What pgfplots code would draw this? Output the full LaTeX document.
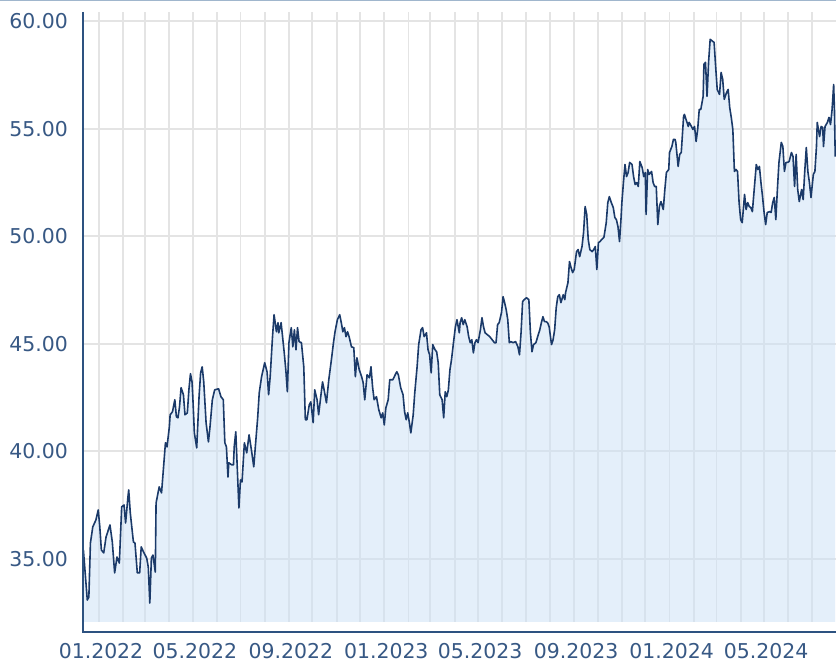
\documentclass[border=0pt]{standalone}
\usepackage{fontspec}
\setmainfont{DejaVu Sans}
\usepackage{pgfplots}
\pgfplotsset{compat=1.18}
\usepackage{pgfplotstable}
\definecolor{linecol}{RGB}{27,58,105}
\definecolor{fillcol}{RGB}{206,226,246}
\definecolor{axiscol}{RGB}{45,82,128}
\definecolor{labelcol}{RGB}{55,88,132}
\definecolor{gridcol}{RGB}{228,228,228}
\definecolor{topcol}{RGB}{160,182,205}

\pgfplotstableread{
d v
-20 35.42
-17 34.02
-15 33.09
-13 33.23
-11 35.74
-8 36.49
-4 36.81
-1 37.28
1 36.49
3 35.42
6 35.28
9 36.02
14 36.58
17 35.79
20 34.35
23 35.09
26 34.81
29 37.42
32 37.51
34 36.67
37 37.88
38 38.21
40 37.14
44 35.79
46 35.74
49 34.35
52 34.35
54 35.56
57 35.32
61 35.04
63 34.63
65 32.95
67 35.04
69 35.18
72 34.39
73 37.60
77 38.35
80 38.07
82 39.00
85 40.40
87 40.21
90 41.14
91 41.70
94 41.84
97 42.40
99 41.61
101 41.56
103 42.07
105 42.96
108 42.63
110 41.70
113 41.79
115 42.86
117 43.61
119 43.23
120 42.54
122 40.86
125 40.16
128 42.54
130 43.65
132 43.93
134 43.23
137 41.33
140 40.44
142 41.14
145 42.40
148 42.86
153 42.91
156 42.54
159 42.40
161 40.40
163 40.21
165 38.81
166 39.47
170 39.37
172 39.37
173 40.21
175 40.91
177 39.14
179 37.37
181 38.67
183 38.58
186 40.40
189 39.93
192 40.77
195 40.07
198 39.28
200 40.21
203 41.56
205 42.72
208 43.47
212 44.12
215 43.70
217 42.63
219 43.47
222 45.33
224 46.35
227 45.56
229 45.98
230 45.51
233 45.98
235 45.28
237 44.58
239 43.79
241 42.77
243 45.05
246 45.75
248 44.86
250 45.65
252 44.72
254 45.75
256 45.10
259 45.05
262 43.93
264 41.47
266 41.47
269 42.16
271 42.30
274 41.33
276 42.86
279 42.40
281 41.70
284 42.63
286 43.23
288 42.86
291 42.26
294 43.33
297 44.16
300 45.05
302 45.56
305 46.12
308 46.35
310 45.98
312 45.56
314 45.75
316 45.33
318 45.56
320 45.33
323 44.86
326 44.82
328 43.47
330 44.35
333 43.79
336 43.47
338 43.19
340 42.40
343 43.56
346 43.42
348 43.93
350 43.00
352 42.40
355 42.54
358 41.93
361 41.56
363 41.79
365 41.23
367 42.02
370 42.40
372 43.33
376 43.33
379 43.56
381 43.70
383 43.56
386 42.96
389 42.63
391 41.84
393 41.47
395 41.79
397 41.37
399 40.86
402 41.70
404 42.72
407 43.93
409 44.96
412 45.65
414 45.75
416 45.33
419 45.51
421 44.72
423 44.49
425 43.65
427 44.96
430 44.72
432 44.63
434 44.12
436 42.63
439 42.40
441 41.56
443 42.77
445 42.54
447 42.86
449 43.79
451 44.26
454 45.19
456 45.79
458 46.12
461 45.51
462 45.98
464 46.21
466 45.89
468 46.12
471 45.79
473 45.33
475 45.05
477 45.19
479 44.58
481 45.05
483 45.19
485 45.05
488 45.65
490 46.21
492 45.79
494 45.51
497 45.42
500 45.33
503 45.19
506 45.05
508 45.05
510 45.89
512 45.98
515 46.45
517 47.19
519 46.91
521 46.58
523 46.12
525 45.05
527 45.10
530 45.05
533 45.10
536 44.86
538 44.49
540 45.51
542 46.96
544 47.05
547 47.14
550 47.05
552 45.51
554 44.63
556 44.96
559 45.05
562 45.42
564 45.65
566 45.98
568 46.26
570 46.03
572 46.03
574 45.98
576 45.79
579 44.96
581 45.19
583 45.65
585 46.68
587 47.19
589 47.28
591 46.91
594 47.28
596 47.05
597 47.38
600 47.84
602 48.82
604 48.54
606 48.31
608 48.45
611 49.28
613 49.38
615 49.05
618 49.52
620 50.17
622 51.38
624 51.01
626 49.84
628 49.38
631 49.28
633 49.38
635 49.52
637 48.45
639 49.70
641 49.75
643 49.84
646 49.94
649 50.63
651 51.56
653 51.84
655 51.61
658 51.33
660 50.87
662 50.77
664 50.45
666 49.75
668 50.87
669 51.56
671 52.49
673 53.33
675 52.77
677 52.96
679 53.43
682 53.33
684 52.77
686 52.40
688 52.49
690 52.31
692 53.47
695 53.19
697 52.77
699 52.96
700 51.01
702 53.10
704 52.87
707 53.01
709 52.49
711 52.31
713 52.31
715 50.54
717 51.38
719 51.61
722 51.24
724 52.17
726 52.96
729 53.10
730 53.89
733 54.17
735 54.50
737 54.50
738 54.36
741 53.24
743 53.80
745 53.89
748 55.57
749 55.66
752 55.33
754 55.10
755 55.29
758 55.10
760 54.96
762 55.10
764 54.40
766 54.96
768 55.89
770 55.89
773 56.50
774 57.99
776 58.08
778 56.50
780 58.12
782 59.15
785 59.06
787 59.01
789 57.89
791 56.82
794 56.59
796 57.61
798 57.29
800 56.36
803 56.68
805 56.82
807 55.98
809 55.52
811 54.96
813 53.01
815 53.10
817 53.01
819 51.56
821 50.77
823 50.63
826 51.94
828 51.24
830 51.56
832 51.38
834 51.33
836 51.14
838 52.03
841 53.33
843 53.10
845 53.24
847 52.49
849 51.84
851 51.10
853 50.54
855 51.10
858 51.14
860 51.10
862 51.56
864 51.80
866 50.77
868 52.17
870 53.43
873 54.36
875 54.17
877 53.01
879 53.43
881 53.43
883 53.47
886 53.89
888 53.70
890 52.31
892 53.80
894 52.17
896 51.61
899 52.17
901 51.70
903 53.01
905 54.12
907 53.01
909 52.49
911 51.80
914 52.87
916 53.01
918 54.17
919 55.29
922 54.63
924 55.10
926 55.05
927 54.17
929 55.10
932 55.29
934 55.52
936 55.19
938 55.89
940 57.05
941 55.89
942 53.70
}\pricedata

\begin{document}
\begin{tikzpicture}
\path[use as bounding box] (0bp,0bp) rectangle (836bp,662bp);
\fill[white] (0bp,0bp) rectangle (836bp,662bp);
\begin{axis}[
  at={(83bp,40bp)}, anchor=south west,
  scale only axis, width=753bp, height=610bp,
  xmin=-20.5, xmax=943, ymin=32.07, ymax=60.42,
  axis line style={draw=none},
  major tick length=0pt, minor tick length=0pt,
  xtick={0,31,59,90,120,151,181,212,243,273,304,334,365,396,424,455,485,516,546,577,608,638,669,699,730,761,790,821,851,882,912},
  xticklabels={01.2022,{},{},{},05.2022,{},{},{},09.2022,{},{},{},01.2023,{},{},{},05.2023,{},{},{},09.2023,{},{},{},01.2024,{},{},{},05.2024,{},{}},
  ytick={35,40,45,50,55,60},
  yticklabels={35.00,40.00,45.00,50.00,55.00,60.00},
  xmajorgrids, ymajorgrids,
  major grid style={draw=gridcol, line width=1.8bp},
  tick label style={font=\fontsize{20.5}{24}\selectfont, text=labelcol},
  yticklabel style={anchor=east, inner sep=0pt, xshift=-15bp},
  xticklabel style={anchor=north, inner sep=0pt, yshift=-21bp, xshift=2bp},
]
\addplot[draw=none, fill=fillcol, fill opacity=0.55] table[x=d,y=v]{\pricedata} \closedcycle;
\addplot[draw=linecol, line width=1.6bp, line join=round] table[x=d,y=v]{\pricedata};
\end{axis}
\draw[axiscol, line width=2bp] (83bp,650bp) -- (83bp,29.5bp) -- (836bp,29.5bp);
\draw[topcol, line width=2.5bp] (0bp,662bp) -- (836bp,662bp);
\end{tikzpicture}
\end{document}
